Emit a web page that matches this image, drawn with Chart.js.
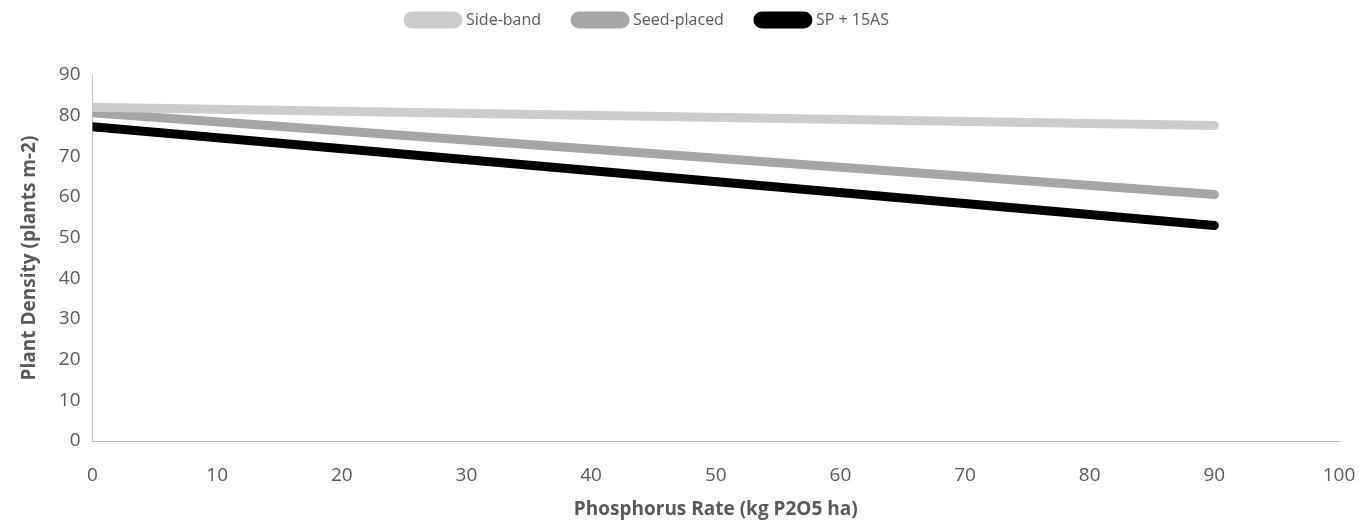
<!DOCTYPE html>
<html>
<head>
<meta charset="utf-8">
<script src="https://cdn.jsdelivr.net/npm/chart.js@4/dist/chart.umd.min.js"></script>
<style>
html,body{margin:0;padding:0;background:#fff;}
#wrap{width:1359px;height:521px;position:relative;}
</style>
</head>
<body>
<div id="wrap"><canvas id="c" width="1359" height="521"></canvas></div>
<script>
const seriesNames = ["Side-band", "Seed-placed", "SP + 15AS"];
const rates = [0, 90];
const sideBand = [82.1, 77.6];
const seedPlaced = [80.7, 60.6];
const sp15AS = [77.3, 53.0];
const xTicks = [0,10,20,30,40,50,60,70,80,90,100];
const yTicks = [0,10,20,30,40,50,60,70,80,90];
const colors = ["#cccccc", "#a5a5a5", "#000000"];

const toPts = arr => arr.map((v,i)=>({x:rates[i], y:v}));
const allSeries = [sideBand, seedPlaced, sp15AS];

const legendMargin = {
  id: 'legendMargin',
  beforeInit(chart) {
    const orig = chart.legend.fit;
    chart.legend.fit = function() { orig.bind(chart.legend)(); this.height += 37; };
  },
  afterLayout(chart) {
    chart.legend.left -= 28;
    chart.legend.right -= 28;
  }
};

new Chart(document.getElementById('c'), {
  type: 'scatter',
  plugins: [legendMargin],
  data: {
    datasets: allSeries.map((s,i)=>({
      label: seriesNames[i],
      data: toPts(s),
      showLine: true,
      borderColor: colors[i],
      backgroundColor: colors[i],
      borderWidth: 9,
      borderCapStyle: 'round',
      pointRadius: 0,
      pointHoverRadius: 0
    }))
  },
  options: {
    responsive: false,
    animation: false,
    layout: {padding: {left: 14, right: 20, top: -22, bottom: 2}},
    plugins: {
      legend: {
        position: 'top',
        labels: {
          boxWidth: 50, boxHeight: 8, useBorderRadius: true, borderRadius: 4,
          color: '#595959', font: {family: 'Open Sans', size: 16}, padding: 34
        }
      },
      tooltip: {enabled: false}
    },
    scales: {
      x: {
        type: 'linear', min: 0, max: 100,
        afterBuildTicks: ax => { ax.ticks = xTicks.map(v=>({value:v})); },
        afterFit: s => { s.paddingRight = 0; },
        grid: {display: false, drawTicks: false},
        border: {display: true, color: '#bfbfbf', width: 1},
        ticks: {color: '#595959', font: {family: 'Open Sans', size: 19, lineHeight: 1.0}, padding: 25},
        title: {display: true, text: 'Phosphorus Rate (kg P2O5 ha)', color: '#595959', font: {family: 'Open Sans', size: 19, weight: 'bold', lineHeight: 1.0}, padding: {top: -10, bottom: 0}}
      },
      y: {
        type: 'linear', min: 0, max: 90,
        afterBuildTicks: ax => { ax.ticks = yTicks.map(v=>({value:v})); },
        grid: {display: false, drawTicks: false},
        border: {display: true, color: '#bfbfbf', width: 1},
        ticks: {color: '#595959', font: {family: 'Open Sans', size: 19}, padding: 12},
        title: {display: true, text: 'Plant Density (plants m-2)', color: '#595959', font: {family: 'Open Sans', size: 19, weight: 'bold'}, padding: {bottom: 6}}
      }
    }
  }
});
</script>
</body>
</html>
